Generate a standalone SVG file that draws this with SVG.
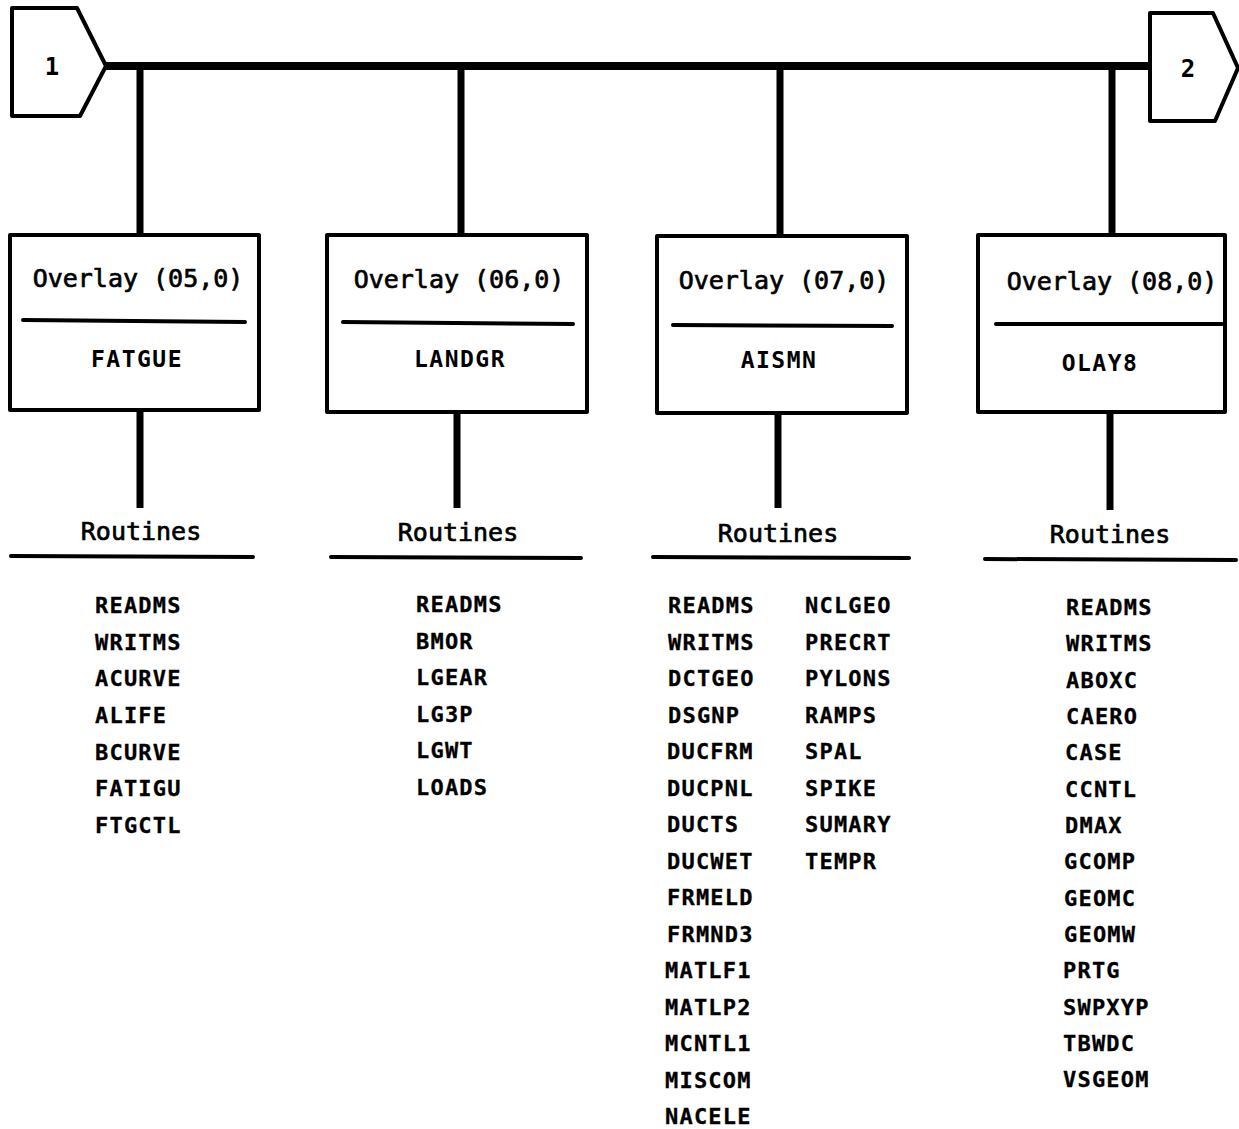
<svg xmlns="http://www.w3.org/2000/svg" width="1239" height="1129" viewBox="0 0 1239 1129">
<style>
.bg{fill:#fff}
.box{fill:#fff;stroke:#000;stroke-width:4;stroke-linejoin:round}
.rule{stroke:#000;stroke-width:4;stroke-linecap:round}
.bus{stroke:#000;stroke-width:8;fill:none}
.stem{stroke:#000;stroke-width:7;fill:none}
.title{font-family:"DejaVu Sans Mono","Liberation Mono",monospace;font-size:25px;fill:#000;stroke:#000;stroke-width:0.7px;text-anchor:middle}
.name{font-family:"DejaVu Sans Mono","Liberation Mono",monospace;font-size:23px;font-weight:bold;letter-spacing:1.5px;fill:#000;text-anchor:middle}
.rt{font-family:"DejaVu Sans Mono","Liberation Mono",monospace;font-size:22px;font-weight:bold;letter-spacing:1.2px;fill:#000;stroke:#000;stroke-width:0.3px}
.num{font-family:"DejaVu Sans Mono","Liberation Mono",monospace;font-size:24px;font-weight:bold;fill:#000;text-anchor:middle}
</style>
<rect class="bg" x="0" y="0" width="1239" height="1129"/>

<g id="connectors">
  <line class="bus" x1="106" y1="66" x2="1152" y2="66"/>
  <line class="stem" x1="140" y1="66" x2="140" y2="236"/>
  <line class="stem" x1="461" y1="66" x2="461" y2="236"/>
  <line class="stem" x1="780" y1="66" x2="780" y2="237"/>
  <line class="stem" x1="1112" y1="66" x2="1112" y2="236"/>
  <line class="stem" x1="140" y1="410" x2="140" y2="508"/>
  <line class="stem" x1="457" y1="411" x2="457" y2="508"/>
  <line class="stem" x1="778" y1="412" x2="778" y2="508"/>
  <line class="stem" x1="1110" y1="411" x2="1110" y2="510"/>
</g>

<g id="offpage1">
  <polygon class="box" points="12,8 77,8 106,66 80,116 12,116"/>
  <text class="num" x="52" y="75">1</text>
</g>

<g id="offpage2">
  <polygon class="box" points="1150,13 1213,13 1238,68 1215,121 1150,121"/>
  <text class="num" x="1188" y="77">2</text>
</g>

<g id="overlay05">
  <rect class="box" x="10" y="235" width="249" height="175"/>
  <text class="title" x="138" y="287">Overlay (05,0)</text>
  <line class="rule" x1="23" y1="320" x2="245" y2="322"/>
  <text class="name" x="137" y="367">FATGUE</text>
</g>

<g id="overlay06">
  <rect class="box" x="327" y="235" width="260" height="177"/>
  <text class="title" x="459" y="288">Overlay (06,0)</text>
  <line class="rule" x1="343" y1="322" x2="573" y2="324"/>
  <text class="name" x="460" y="367">LANDGR</text>
</g>

<g id="overlay07">
  <rect class="box" x="657" y="236" width="250" height="177"/>
  <text class="title" x="784" y="289">Overlay (07,0)</text>
  <line class="rule" x1="673" y1="325" x2="892" y2="326"/>
  <text class="name" x="779" y="368">AISMN</text>
</g>

<g id="overlay08">
  <rect class="box" x="978" y="235" width="247" height="177"/>
  <text class="title" x="1112" y="290">Overlay (08,0)</text>
  <line class="rule" x1="996" y1="324" x2="1222" y2="324"/>
  <text class="name" x="1100" y="371">OLAY8</text>
</g>

<g id="routines05">
  <text class="title" x="141" y="540">Routines</text>
  <line class="rule" x1="11" y1="556" x2="253" y2="557"/>
  <text class="rt" x="95" y="613">READMS</text>
  <text class="rt" x="95" y="650">WRITMS</text>
  <text class="rt" x="95" y="686">ACURVE</text>
  <text class="rt" x="95" y="723">ALIFE</text>
  <text class="rt" x="95" y="760">BCURVE</text>
  <text class="rt" x="95" y="796">FATIGU</text>
  <text class="rt" x="95" y="833">FTGCTL</text>
</g>

<g id="routines06">
  <text class="title" x="458" y="541">Routines</text>
  <line class="rule" x1="331" y1="557" x2="581" y2="558"/>
  <text class="rt" x="416" y="612">READMS</text>
  <text class="rt" x="416" y="649">BMOR</text>
  <text class="rt" x="416" y="685">LGEAR</text>
  <text class="rt" x="416" y="722">LG3P</text>
  <text class="rt" x="416" y="758">LGWT</text>
  <text class="rt" x="416" y="795">LOADS</text>
</g>

<g id="routines07">
  <text class="title" x="778" y="542">Routines</text>
  <line class="rule" x1="653" y1="557" x2="909" y2="558"/>
  <text class="rt" x="668" y="613">READMS</text>
  <text class="rt" x="668" y="650">WRITMS</text>
  <text class="rt" x="668" y="686">DCTGEO</text>
  <text class="rt" x="668" y="723">DSGNP</text>
  <text class="rt" x="667" y="759">DUCFRM</text>
  <text class="rt" x="667" y="796">DUCPNL</text>
  <text class="rt" x="667" y="832">DUCTS</text>
  <text class="rt" x="667" y="869">DUCWET</text>
  <text class="rt" x="667" y="905">FRMELD</text>
  <text class="rt" x="667" y="942">FRMND3</text>
  <text class="rt" x="665" y="978">MATLF1</text>
  <text class="rt" x="665" y="1015">MATLP2</text>
  <text class="rt" x="665" y="1051">MCNTL1</text>
  <text class="rt" x="665" y="1088">MISCOM</text>
  <text class="rt" x="665" y="1124">NACELE</text>
  <text class="rt" x="805" y="613">NCLGEO</text>
  <text class="rt" x="805" y="650">PRECRT</text>
  <text class="rt" x="805" y="686">PYLONS</text>
  <text class="rt" x="805" y="723">RAMPS</text>
  <text class="rt" x="805" y="759">SPAL</text>
  <text class="rt" x="805" y="796">SPIKE</text>
  <text class="rt" x="805" y="832">SUMARY</text>
  <text class="rt" x="805" y="869">TEMPR</text>
</g>

<g id="routines08">
  <text class="title" x="1110" y="543">Routines</text>
  <line class="rule" x1="985" y1="559" x2="1236" y2="560"/>
  <text class="rt" x="1066" y="615">READMS</text>
  <text class="rt" x="1066" y="651">WRITMS</text>
  <text class="rt" x="1066" y="688">ABOXC</text>
  <text class="rt" x="1066" y="724">CAERO</text>
  <text class="rt" x="1065" y="760">CASE</text>
  <text class="rt" x="1065" y="797">CCNTL</text>
  <text class="rt" x="1065" y="833">DMAX</text>
  <text class="rt" x="1064" y="869">GCOMP</text>
  <text class="rt" x="1064" y="906">GEOMC</text>
  <text class="rt" x="1064" y="942">GEOMW</text>
  <text class="rt" x="1063" y="978">PRTG</text>
  <text class="rt" x="1063" y="1015">SWPXYP</text>
  <text class="rt" x="1063" y="1051">TBWDC</text>
  <text class="rt" x="1063" y="1087">VSGEOM</text>
</g>
</svg>
